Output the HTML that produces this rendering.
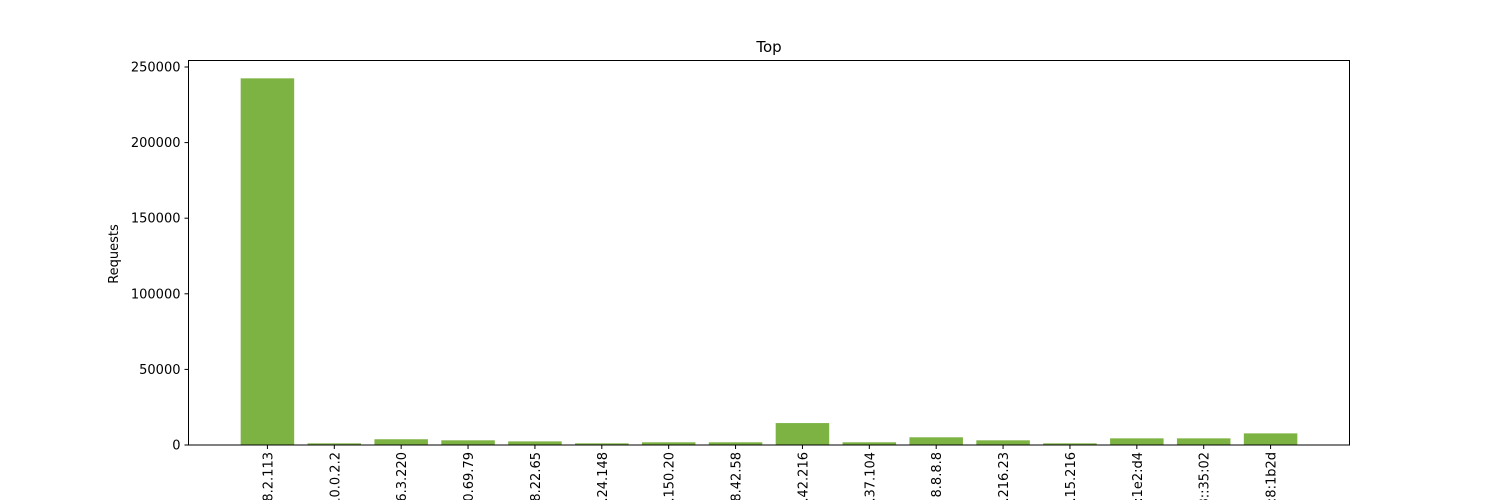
<!DOCTYPE html>
<html style="overflow:hidden;width:1500px;height:500px"><head><meta charset="utf-8"><style>
body{margin:0;background:#fff;width:1500px;height:500px;overflow:hidden}
svg{font-family:"DejaVu Sans","Liberation Sans",sans-serif;overflow:hidden;display:block}
</style></head><body>
<svg id="chart" width="1500" height="500" viewBox="0 0 1500 500">
<text x="769" y="52" font-size="15" text-anchor="middle">Top</text>
<text transform="translate(118,254) rotate(-90)" font-size="13" text-anchor="middle">Requests</text>
<g id="bars"></g><g id="yticks"></g><g id="xticks"></g>
<rect x="188.5" y="60.5" width="1161" height="384.5" fill="none" stroke="#000" stroke-width="1"/>
</svg>
<script>
const categories=["192.168.2.113","10.0.2.2","172.16.3.220","10.20.69.79","192.168.22.65","10.1.24.148","172.16.150.20","10.8.42.58","192.168.42.216","10.0.37.104","8.8.8.8","172.16.216.23","10.5.15.216","fe80::1e2:d4","2001:db8::35:02","2001:db8::8:1b2d"];
const values=[242500,1100,3800,3100,2400,1100,1800,1800,14500,1800,5100,3100,1100,4400,4400,7700];
const yTicks=[0,50000,100000,150000,200000,250000];
const NS="http://www.w3.org/2000/svg";
const L=188.5,R=1349.5,T=60.5,B=445;
const xmin=-1.18,xmax=16.18;
const X=v=>L+(v-xmin)/(xmax-xmin)*(R-L);
const Y=v=>B-v/250000*378;
const bars=document.getElementById('bars'),yt=document.getElementById('yticks'),xt=document.getElementById('xticks');
function mk(t,a,p){const e=document.createElementNS(NS,t);for(const k in a)e.setAttribute(k,a[k]);p.appendChild(e);return e;}
values.forEach((v,i)=>{
 const r=mk('rect',{x:X(i-0.4),y:Y(v),width:X(i+0.4)-X(i-0.4),height:B-Y(v),fill:'#7db343'},bars);
 
 
 const tk=mk('line',{x1:X(i),x2:X(i),y1:B,y2:B+4,stroke:'#000'},xt);
 
 
 const tx=mk('text',{transform:`translate(${X(i)+5},${B+7}) rotate(-90)`,'font-size':13,'text-anchor':'end'},xt);
 tx.textContent=categories[i];
 
 
});
yTicks.forEach(v=>{
 const tk=mk('line',{x1:L-4,x2:L,y1:Y(v),y2:Y(v),stroke:'#000'},yt);
 
 
 const tx=mk('text',{x:L-8,y:Y(v)+4.5,'font-size':13,'text-anchor':'end'},yt);
 tx.textContent=v;
 
 
});
</script>
</body></html>
